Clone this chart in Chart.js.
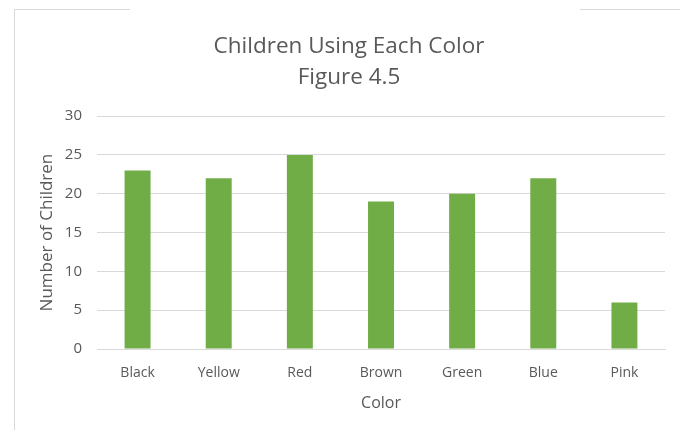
<!DOCTYPE html>
<html>
<head>
<meta charset="utf-8">
<script src="https://cdn.jsdelivr.net/npm/chart.js@4"></script>
<style>
body { margin: 0; background: #fff; }
#wrap { position: relative; width: 692px; height: 430px; }
.edge { position: absolute; background: #d9d9d9; }
</style>
</head>
<body>
<div id="wrap">
<div class="edge" style="left:14px;top:10px;width:1px;height:420px"></div>
<div class="edge" style="left:14px;top:9px;width:116px;height:1px"></div>
<div class="edge" style="left:580px;top:9px;width:100px;height:1px"></div>
<canvas id="chart" width="692" height="430"></canvas>
</div>
<script>
const colors = ['Black', 'Yellow', 'Red', 'Brown', 'Green', 'Blue', 'Pink'];
const children = [23, 22, 25, 19, 20, 22, 6];
const yTicks = [0, 5, 10, 15, 20, 25, 30];

const font = "'Open Sans', 'DejaVu Sans', sans-serif";
const grey = '#595959';

var ctx = document.getElementById('chart').getContext('2d');
var myChart = new Chart(ctx, {
  type: 'bar',
  data: {
    labels: colors,
    datasets: [{
      label: 'Children',
      data: children,
      backgroundColor: '#70ad47',
      borderWidth: 0,
      categoryPercentage: 1,
      barPercentage: 0.32
    }]
  },
  options: {
    responsive: false,
    animation: false,
    layout: { padding: { left: 33, right: 27, top: 31, bottom: 13 } },
    plugins: {
      legend: { display: false },
      tooltip: { enabled: false },
      title: {
        display: true,
        text: ['Children Using Each Color', 'Figure 4.5'],
        color: grey,
        font: { family: font, size: 22.5, weight: 'normal', lineHeight: 1.38 },
        padding: { top: 0, bottom: 23 }
      }
    },
    scales: {
      x: {
        grid: { display: false },
        border: { color: '#d9d9d9' },
        ticks: { color: grey, font: { family: font, size: 14 }, padding: 8 },
        title: { display: true, text: 'Color', color: grey, font: { family: font, size: 16 }, padding: { top: 4 } }
      },
      y: {
        min: 0,
        max: 30,
        afterBuildTicks: axis => { axis.ticks = yTicks.map(v => ({ value: v })); },
        afterFit: axis => { axis.width = 64; },
        grid: { color: '#d9d9d9', drawTicks: false },
        border: { display: false },
        ticks: { color: grey, font: { family: font, size: 15 }, padding: 15 },
        title: { display: true, text: 'Number of Children', color: grey, font: { family: font, size: 17 }, padding: { top: 4, bottom: 0 } }
      }
    }
  }
});
</script>
</body>
</html>
